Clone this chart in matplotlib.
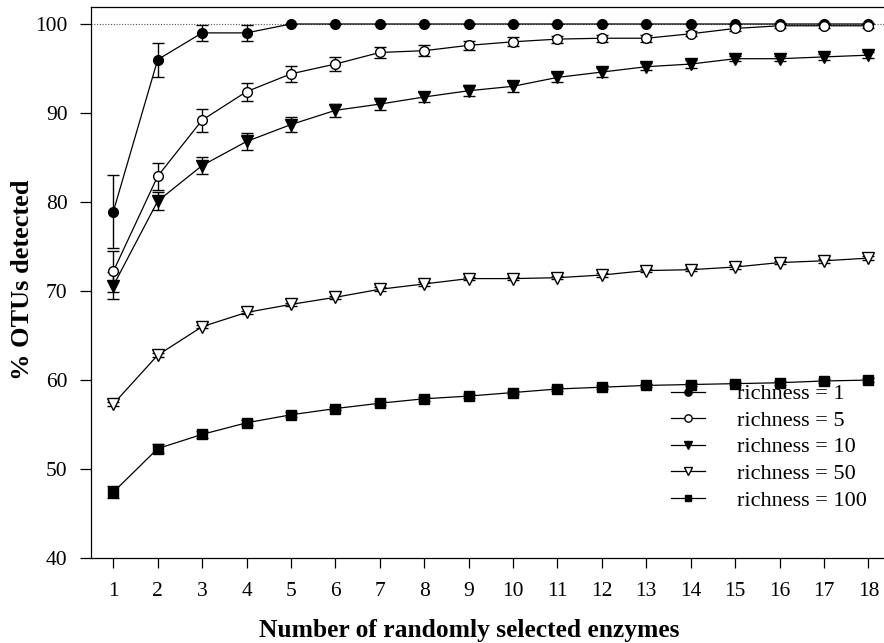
import matplotlib
matplotlib.use("Agg")
import matplotlib.pyplot as plt
import numpy as np

plt.rcParams['font.family'] = ['Liberation Serif', 'DejaVu Serif']

enzymes = list(range(1, 19))

r1 = [78.9, 96.0, 99.0, 99.0, 100, 100, 100, 100, 100, 100, 100, 100, 100, 100, 100, 100, 100, 100]
r1_err = [4.1, 1.9, 0.9, 0.9, 0, 0, 0, 0, 0, 0, 0, 0, 0, 0, 0, 0, 0, 0]

r5 = [72.2, 82.9, 89.2, 92.4, 94.4, 95.5, 96.8, 97.0, 97.6, 98.0, 98.3, 98.4, 98.4, 98.9, 99.5, 99.8, 99.8, 99.8]
r5_err = [2.3, 1.5, 1.3, 1.0, 0.9, 0.8, 0.6, 0.6, 0.5, 0.5, 0.4, 0.4, 0.4, 0.3, 0.3, 0.3, 0.3, 0.3]

r10 = [70.6, 80.1, 84.1, 86.8, 88.7, 90.3, 91.0, 91.8, 92.5, 93.0, 94.0, 94.6, 95.2, 95.5, 96.1, 96.1, 96.3, 96.5]
r10_err = [1.5, 1.0, 1.0, 0.9, 0.8, 0.7, 0.7, 0.6, 0.6, 0.6, 0.5, 0.5, 0.4, 0.4, 0.3, 0.3, 0.3, 0.3]

r50 = [57.3, 62.8, 66.0, 67.6, 68.5, 69.3, 70.2, 70.8, 71.4, 71.4, 71.5, 71.8, 72.3, 72.4, 72.7, 73.2, 73.4, 73.7]
r50_err = [0.2] * 18

r100 = [47.4, 52.3, 53.9, 55.2, 56.1, 56.8, 57.4, 57.9, 58.2, 58.6, 59.0, 59.2, 59.4, 59.5, 59.6, 59.7, 59.9, 60.0]
r100_err = [0.7, 0.5, 0.4, 0.3, 0.3, 0.2, 0.2, 0.2, 0.2, 0.2, 0.2, 0.2, 0.2, 0.2, 0.2, 0.2, 0.2, 0.2]

labels = ['richness = 1', 'richness = 5', 'richness = 10', 'richness = 50', 'richness = 100']

fig = plt.figure(figsize=(8.84, 6.43), dpi=100)
ax = fig.add_axes([0.103, 0.132, 0.897, 0.857])

ax.axhline(100, color='#555555', lw=0.8, ls=(0, (1, 1.5)), zorder=0)

series = [
    (r1, r1_err, dict(marker='o', mfc='black', mec='black', ms=7)),
    (r5, r5_err, dict(marker='o', mfc='white', mec='black', ms=7)),
    (r10, r10_err, dict(marker='v', mfc='black', mec='black', ms=8)),
    (r50, r50_err, dict(marker='v', mfc='white', mec='black', ms=8)),
    (r100, r100_err, dict(marker='s', mfc='black', mec='black', ms=6.5)),
]
handles = []
for (vals, errs, st), lab in zip(series, labels):
    ax.errorbar(enzymes, vals, yerr=errs, color='black', lw=0.9, ecolor='black',
                elinewidth=1.0, capsize=4, capthick=1.0, zorder=3, mew=1.0, **st)
    h, = ax.plot([], [], color='black', lw=0.9, label=lab, marker=st['marker'],
                 mfc=st['mfc'], mec='black', ms=st['ms'] * 0.75)
    handles.append(h)

ax.set_xlim(0.5, 18.35)
ax.set_ylim(40, 101.9)
ax.set_xticks(enzymes)
ax.set_yticks([40, 50, 60, 70, 80, 90, 100])
ax.tick_params(axis='both', direction='out', width=0.9, labelsize=15.5)
ax.tick_params(axis='x', length=7, pad=10)
ax.tick_params(axis='y', length=8, pad=9)
for s in ax.spines.values():
    s.set_linewidth(0.9)
ax.spines['right'].set_visible(False)

ax.set_xlabel('Number of randomly selected enzymes', fontsize=18.4, fontweight='bold', va='center')
ax.xaxis.set_label_coords(0.477, -0.131)
ax.set_ylabel('% OTUs detected', fontsize=19, fontweight='bold', va='center')
ax.yaxis.set_label_coords(-0.087, 0.506)

ax.legend(handles=handles, loc='lower right', bbox_to_anchor=(1.004, 0.05), frameon=False,
          fontsize=16, handlelength=1.55, handletextpad=1.45, labelspacing=0.27)

fig.savefig('out.png', dpi=100)
